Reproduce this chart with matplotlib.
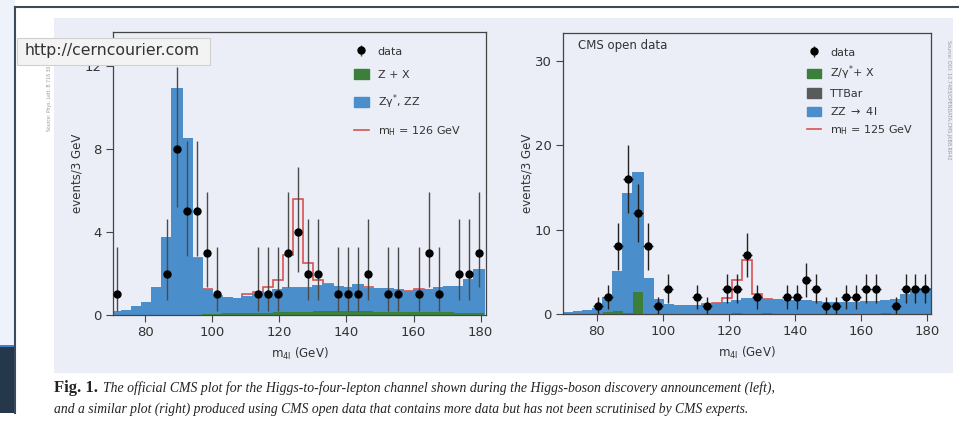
import numpy as np
import matplotlib
matplotlib.use("Agg")
import matplotlib.pyplot as plt
from matplotlib.patches import Patch, Rectangle
from matplotlib.lines import Line2D

plt.rcParams['font.family'] = ['DejaVu Sans']
plt.rcParams['mathtext.default'] = 'regular'

# ---- data (3 GeV bins, 70 -> 181 GeV) ----
bin_edges = np.arange(70, 182, 3)

# left: official CMS plot
left_bkg = [0.13, 0.2, 0.4, 0.6, 1.3, 3.7, 10.9, 8.5, 2.7, 1.2, 0.85, 0.8, 0.75,
            0.88, 0.97, 1.08, 1.2, 1.3, 1.3, 1.3, 1.4, 1.45, 1.35, 1.3, 1.45, 1.25,
            1.23, 1.24, 1.2, 1.1, 1.2, 1.2, 1.28, 1.33, 1.36, 1.68, 2.17]
left_zx = [0, 0, 0, 0, 0, 0, 0, 0, 0.02, 0.04, 0.06, 0.08, 0.09, 0.1, 0.11, 0.12,
           0.13, 0.14, 0.15, 0.16, 0.17, 0.17, 0.17, 0.17, 0.17, 0.17, 0.16, 0.16,
           0.15, 0.15, 0.14, 0.14, 0.13, 0.13, 0.12, 0.12, 0.12]
left_sig = [0, 0, 0, 0, 0, 0, 0, 0, 0.05, 0.06, 0.05, 0.02, 0.02, 0.12, 0.12, 0.25,
            0.5, 1.6, 4.3, 1.2, 0.3, 0.05, 0, 0, 0, 0.08, 0, 0, 0, 0.05, 0.05, 0,
            0, 0, 0, 0, 0]
left_x = [71.5, 86.5, 89.5, 92.5, 95.5, 98.5, 101.5, 113.5, 116.5, 119.5, 122.5,
          125.5, 128.5, 131.5, 137.5, 140.5, 143.5, 146.5, 152.5, 155.5, 161.5,
          164.5, 167.5, 173.5, 176.5, 179.5]
left_n = [1, 2, 8, 5, 5, 3, 1, 1, 1, 1, 3, 4, 2, 2, 1, 1, 1, 2, 1, 1, 1, 3, 1, 2, 2, 3]
# 68% poisson intervals
poisson_lo = {1: 0.17, 2: 0.71, 3: 1.37, 4: 2.09, 5: 2.84, 8: 5.23}
poisson_hi = {1: 3.30, 2: 4.64, 3: 5.92, 4: 7.16, 5: 8.38, 8: 11.95}

# right: CMS open data
right_bkg = [0.15, 0.25, 0.4, 0.65, 1.9, 5.0, 14.2, 16.7, 4.1, 1.65, 1.1, 0.95, 0.9,
             1.0, 1.1, 1.2, 1.35, 1.55, 1.8, 1.75, 1.65, 1.6, 1.55, 1.5, 1.5, 1.45,
             1.35, 1.3, 1.3, 1.35, 1.4, 1.45, 1.55, 1.65, 2.2, 2.6, 3.0]
right_zx = [0, 0, 0, 0, 0.2, 0.35, 0.15, 2.55, 0.05, 0, 0, 0, 0, 0, 0, 0, 0, 0.1, 0,
            0, 0.1, 0, 0, 0, 0, 0, 0, 0, 0, 0, 0, 0, 0.1, 0, 0, 0, 0]
right_sig = [0, 0, 0, 0, 0, 0, 0, 0, 0, 0, 0, 0, 0, 0, 0.1, 0.13, 0.6, 2.45, 4.65,
             0.6, 0.08, 0, 0, 0, 0, 0, 0, 0, 0, 0, 0, 0, 0, 0, 0, 0, 0]
right_x = [80.5, 83.5, 86.5, 89.5, 92.5, 95.5, 98.5, 101.5, 110.5, 113.5, 119.5,
           122.5, 125.5, 128.5, 137.5, 140.5, 143.5, 146.5, 149.5, 152.5, 155.5,
           158.5, 161.5, 164.5, 170.5, 173.5, 176.5, 179.5]
right_n = [1, 2, 8, 16, 12, 8, 1, 3, 2, 1, 3, 3, 7, 2, 2, 2, 4, 3, 1, 1, 2, 2, 3, 3,
           1, 3, 3, 3]

blue = '#4a8fcb'
green = '#3b7f3b'
red = '#d9534f'
panel = '#eceef7'
txt = '#333333'

fig = plt.figure(figsize=(9.59, 4.21), dpi=100)
W, H = 959.0, 421.0

def px(x0, y0, x1, y1):
    # pixel box (top-left origin) -> figure fractions
    return [x0 / W, 1 - y1 / H, (x1 - x0) / W, (y1 - y0) / H]

def box(x0, y0, x1, y1, z=-5, **kw):
    fig.patches.append(Rectangle((x0 / W, 1 - y1 / H), (x1 - x0) / W, (y1 - y0) / H,
                                 transform=fig.transFigure, zorder=z, **kw))

# page furniture around the charts
box(0, 0, 15, 345, facecolor='#eef2fa', edgecolor='none')
box(0, 347, 15, 413, facecolor='#25374b', edgecolor='none')
box(0, 345, 15, 347, facecolor='#3d7fd0', edgecolor='none')
box(54, 18, 953, 373, facecolor=panel, edgecolor='none')
fig.lines.append(Line2D([15 / W, 15 / W], [1 - 7 / H, 1 - 413 / H], transform=fig.transFigure,
                        color='#3c4a5c', lw=1.5))
fig.lines.append(Line2D([15 / W, 1], [1 - 7 / H, 1 - 7 / H], transform=fig.transFigure,
                        color='#3c4a5c', lw=1.5))


def style_axes(ax, xlim, ylim, yticks):
    ax.set_facecolor('none')
    ax.set_xlim(*xlim)
    ax.set_ylim(*ylim)
    ax.set_xticks([80, 100, 120, 140, 160, 180])
    ax.set_yticks(yticks)
    for s in ax.spines.values():
        s.set_color('#444444')
        s.set_linewidth(0.9)
    ax.tick_params(axis='both', direction='out', length=5, width=0.8, color='#444444',
                   labelsize=9.5, labelcolor=txt, pad=3)
    ax.tick_params(axis='x', top=False)
    ax.tick_params(axis='y', right=False)
    ax.set_xlabel('m$_{4l}$ (GeV)', fontsize=8.5, color=txt, labelpad=5)
    ax.set_ylabel('events/3 GeV', fontsize=8.5, color=txt, labelpad=1)


# ---- left chart ----
ax1 = fig.add_axes(px(113, 32, 486, 315))
l_bkg = np.array(left_bkg)
ax1.stairs(l_bkg + np.array(left_sig), bin_edges, color=red, lw=1.2, zorder=1)
ax1.stairs(l_bkg, bin_edges, fill=True, facecolor=blue, edgecolor=blue, lw=1.4, zorder=2)
ax1.stairs(left_zx, bin_edges, fill=True, facecolor=green, edgecolor='none', zorder=3)
lo = [n - poisson_lo[n] for n in left_n]
hi = [poisson_hi[n] - n for n in left_n]
d1 = ax1.errorbar(left_x, left_n, yerr=[lo, hi], fmt='o', color='black', ms=5,
                  ecolor='#4a4a4a', elinewidth=1.0, capsize=0, zorder=5)
style_axes(ax1, (70.4, 181.6), (0, 13.65), [0, 4, 8, 12])

h1 = [d1, Patch(color=green), Patch(color=blue), Line2D([], [], color=red, lw=1.2)]
ax1.legend(h1, ['data', 'Z + X', 'Z$\\gamma^{*}$, ZZ', 'm$_H$ = 126 GeV'],
           loc='upper left', bbox_to_anchor=(0.62, 0.985), frameon=False, fontsize=8,
           handlelength=1.3, handleheight=0.9, labelspacing=1.15, handletextpad=0.8,
           labelcolor=txt)

# ---- right chart ----
ax2 = fig.add_axes(px(563, 33, 931, 314))
r_bkg = np.array(right_bkg)
ax2.stairs(r_bkg + np.array(right_sig), bin_edges, color=red, lw=1.2, zorder=1)
ax2.stairs(r_bkg, bin_edges, fill=True, facecolor=blue, edgecolor=blue, lw=1.4, zorder=2)
ax2.stairs(right_zx, bin_edges, fill=True, facecolor=green, edgecolor='none', zorder=3)
r_err = np.sqrt(right_n)
ax2.errorbar(right_x, right_n, yerr=r_err, xerr=1.5, fmt='o', color='black', ms=5,
             ecolor='#222222', elinewidth=1.0, capsize=0, zorder=5)
style_axes(ax2, (69.8, 181.2), (0, 33.3), [0, 10, 20, 30])
ax2.text(0.04, 0.955, 'CMS open data', transform=ax2.transAxes, fontsize=8.5,
         color=txt, va='center')

d2 = ax2.errorbar([np.nan], [np.nan], yerr=[[1], [1]], fmt='o', color='black', ms=5,
                  ecolor='#222222', elinewidth=1.0)
h2 = [d2, Patch(color=green), Patch(color='#5a5a5a'), Patch(color=blue),
      Line2D([], [], color=red, lw=1.2)]
ax2.legend(h2, ['data', 'Z/$\\gamma^{*}$+ X', 'TTBar', 'ZZ $\\rightarrow$ 4l',
                'm$_H$ = 125 GeV'],
           loc='upper left', bbox_to_anchor=(0.635, 0.985), frameon=False, fontsize=8,
           handlelength=1.3, handleheight=0.9, labelspacing=0.55, handletextpad=0.8,
           labelcolor=txt)

# side credits
fig.text(50 / W, 1 - 98 / H, 'Source: Phys. Lett. B 716 30', rotation=90, fontsize=3.3,
         color='#999999', ha='center', va='center')
fig.text(949 / W, 1 - 100 / H, 'Source: DOI: 10.7483/OPENDATA.CMS.JKB8.RR42', rotation=-90,
         fontsize=3.5, color='#999999', ha='center', va='center')

# browser tooltip
box(17, 38, 210, 65, z=10, facecolor='#f3f3f3', edgecolor='#d0d0d0', lw=0.8)
fig.text(25 / W, 1 - 51 / H, 'http://cerncourier.com', fontsize=11.3, color='#333333',
         va='center', zorder=11)

# caption
cap_font = dict(family='Liberation Serif', color='#222222', va='center')
fig.text(54 / W, 1 - 388 / H, 'Fig. 1.', fontweight='bold', fontsize=12, **cap_font)
fig.text(103 / W, 1 - 388 / H,
         'The official CMS plot for the Higgs-to-four-lepton channel shown during the '
         'Higgs-boson discovery announcement (left),', style='italic', fontsize=9.9,
         **cap_font)
fig.text(54 / W, 1 - 409 / H,
         'and a similar plot (right) produced using CMS open data that contains more data '
         'but has not been scrutinised by CMS experts.', style='italic', fontsize=9.8,
         **cap_font)

fig.savefig('out.png', dpi=100, facecolor='white')
